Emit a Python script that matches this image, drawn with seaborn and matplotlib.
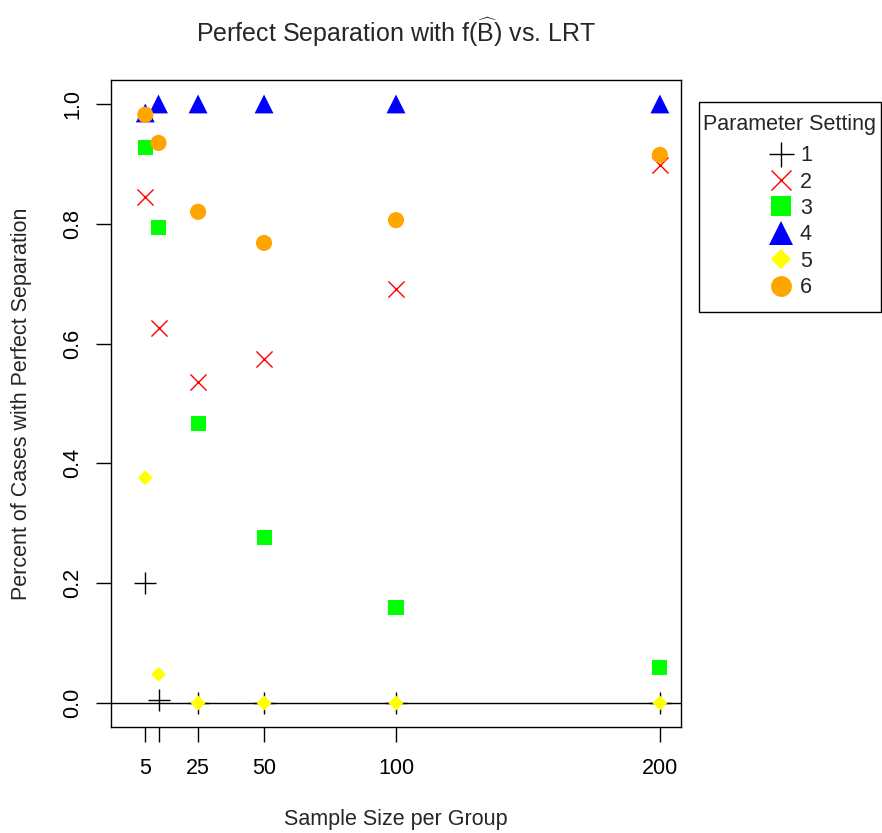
import matplotlib
matplotlib.use("Agg")
import matplotlib.pyplot as plt
from matplotlib.lines import Line2D
from matplotlib.patches import Rectangle
import pandas as pd
import seaborn as sns

# Sample sizes per group and the share of simulated cases with perfect separation
sizes = [5, 10, 25, 50, 100, 200]
setting_1 = [0.200, 0.005, 0.0, 0.0, 0.0, 0.0]
setting_2 = [0.845, 0.626, 0.536, 0.574, 0.691, 0.898]
setting_3 = [0.928, 0.793, 0.467, 0.277, 0.160, 0.060]
setting_4 = [0.985, 1.0, 1.0, 1.0, 1.0, 1.0]
setting_5 = [0.376, 0.048, 0.0, 0.0, 0.0, 0.0]
setting_6 = [0.982, 0.935, 0.820, 0.768, 0.806, 0.915]
setting_names = ["1", "2", "3", "4", "5", "6"]
x_ticks = [5, 10, 25, 50, 100, 200]
x_tick_labels = ["5", "", "25", "50", "100", "200"]
y_ticks = [0.0, 0.2, 0.4, 0.6, 0.8, 1.0]

series = [setting_1, setting_2, setting_3, setting_4, setting_5, setting_6]
frames = []
for name, vals in zip(setting_names, series):
    frames.append(pd.DataFrame({"n": sizes, "pct": vals, "setting": name}))
df = pd.concat(frames, ignore_index=True)

sns.set_style("white")
plt.rcParams["font.family"] = ["Liberation Sans", "DejaVu Sans"]
plt.rcParams["mathtext.fontset"] = "custom"
plt.rcParams["mathtext.rm"] = "Liberation Sans"
plt.rcParams["mathtext.it"] = "Liberation Sans"

FS = 15.5
W, H = 882, 833

colors = {"1": "black", "2": "#FF0000", "3": "#00FF00", "4": "#0000FF",
          "5": "#FFFF00", "6": "#FFA500"}
markers = {"1": "+", "2": "x", "3": "s", "4": "^", "5": "D", "6": "o"}
sizes_pt2 = {"1": 230, "2": 135, "3": 117, "4": 185, "5": 58, "6": 135}
line_w = {"1": 1.0, "2": 1.0, "3": 0, "4": 0, "5": 0, "6": 0}

fig = plt.figure(figsize=(W / 100, H / 100), dpi=100)
ax = fig.add_axes([111 / W, 1 - 727 / H, 570 / W, 647 / H])

ax.axhline(0, color="black", lw=1.0, zorder=1)

for name in setting_names:
    sub = df[df["setting"] == name]
    sns.scatterplot(data=sub, x="n", y="pct", ax=ax, color=colors[name],
                    marker=markers[name], s=sizes_pt2[name],
                    linewidth=line_w[name], edgecolor=colors[name] if line_w[name] else "none",
                    legend=False, zorder=3)

ax.set_xlim(-8, 208)
ax.set_ylim(-0.04, 1.04)
ax.set_xticks(x_ticks)
ax.set_xticklabels(x_tick_labels)
ax.set_yticks(y_ticks)
ax.set_yticklabels([f"{v:.1f}" for v in y_ticks], rotation=90, va="center")
ax.tick_params(axis="both", direction="out", length=11, width=1, color="black",
               labelsize=FS, labelcolor="black", bottom=True, left=True)
ax.tick_params(axis="x", pad=11)
ax.tick_params(axis="y", pad=9)

for side in ["top", "right", "bottom", "left"]:
    ax.spines[side].set_visible(True)
    ax.spines[side].set_color("black")
    ax.spines[side].set_linewidth(1.0)

ax.set_xlabel("Sample Size per Group", fontsize=FS, labelpad=22)
ax.set_ylabel("Percent of Cases with Perfect Separation", fontsize=FS, labelpad=22)
fig.text(396 / W, 1 - 32 / H, r"Perfect Separation with f($\widehat{\mathrm{B}}$) vs. LRT",
         ha="center", va="center", fontsize=18)

# Legend box drawn as a plain rectangle in figure space, entries placed inside it
box_l, box_r, box_t, box_b = 699, 880.5, 102, 312
fig.patches.append(Rectangle((box_l / W, 1 - box_b / H), (box_r - box_l) / W,
                             (box_b - box_t) / H, transform=fig.transFigure,
                             facecolor="white", edgecolor="black", lw=1.0, zorder=5))

legend_sizes = {"1": 18, "2": 14, "3": 14, "4": 17, "5": 10, "6": 15}
handles = [Line2D([], [], linestyle="none", marker=markers[k], color=colors[k],
                  markerfacecolor=colors[k], markeredgecolor=colors[k],
                  markeredgewidth=1.0 if line_w[k] else 0,
                  markersize=legend_sizes[k]) for k in setting_names]
leg = fig.legend(handles, setting_names, title="Parameter Setting",
                 loc="upper center", bbox_to_anchor=((box_l + box_r) / 2 / W, 1 - 108 / H),
                 frameon=False, fontsize=FS, title_fontsize=FS, handlelength=1.2,
                 handletextpad=0.3, labelspacing=0.25, borderpad=0.3,
                 borderaxespad=0)
leg.set_zorder(6)
leg._legend_box.sep = 7

fig.savefig("out.png", dpi=100)
